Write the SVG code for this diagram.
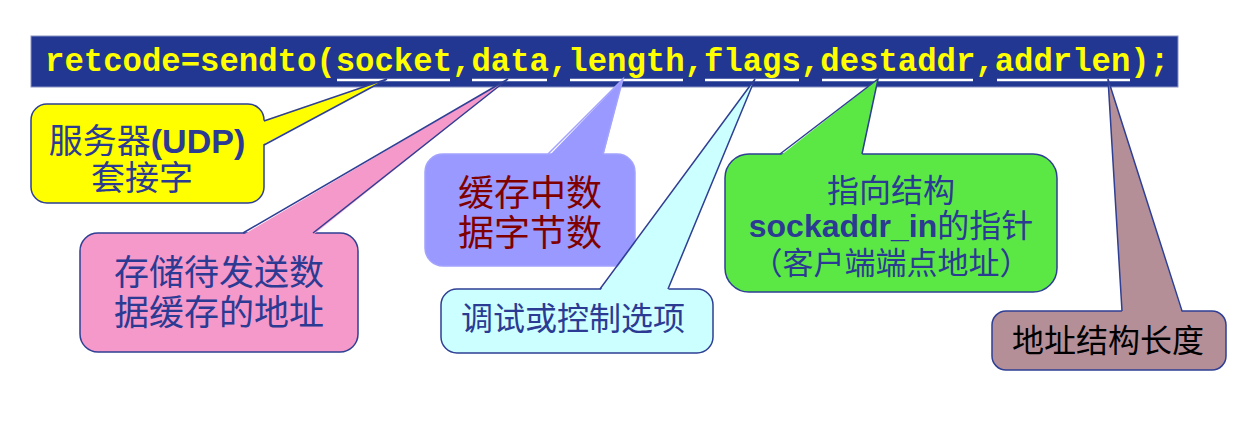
<svg xmlns="http://www.w3.org/2000/svg" width="1233" height="427" viewBox="0 0 1233 427">
<style>
.box{stroke:#2E3F94;stroke-width:1.5}
.edge{fill:none;stroke:#2E3F94;stroke-width:1.5;stroke-linejoin:miter}
.cjk{font-family:"Noto Sans CJK SC","Noto Sans",sans-serif;text-anchor:middle}
.lat{font-family:"Liberation Sans",Arial,sans-serif;font-weight:bold}
.blue{fill:#2B3A92}
.code{font-family:"Liberation Mono","Courier New",monospace;font-weight:bold;font-size:32.3px;fill:#FFFF00}
.ul{stroke:#FFFFFF;stroke-width:2.5}
</style>
<rect width="1233" height="427" fill="#FFFFFF"/>
<g id="code-bar">
<rect x="31" y="36" width="1147" height="51" fill="#213791" stroke="#8A93C4" stroke-width="1"/>
<text class="code" x="45" y="71">retcode=sendto(socket,data,length,flags,destaddr,addrlen);</text>
<line class="ul" x1="337" y1="80" x2="450" y2="80"/>
<line class="ul" x1="472" y1="80" x2="547" y2="80"/>
<line class="ul" x1="570" y1="80" x2="683" y2="80"/>
<line class="ul" x1="705" y1="80" x2="799" y2="80"/>
<line class="ul" x1="822" y1="80" x2="973" y2="80"/>
<line class="ul" x1="997" y1="80" x2="1130" y2="80"/>
</g>
<g id="socket-note">
<rect class="box" x="31" y="104" width="233" height="99" rx="16" fill="#FFFF00"/>
<text class="cjk blue" x="147" y="153" font-size="34">服务器<tspan class="lat">(UDP)</tspan></text>
<text class="cjk blue" x="142" y="190" font-size="34">套接字</text>
</g>
<g id="data-note">
<rect class="box" x="80" y="233" width="278" height="119" rx="18" fill="#F598CA"/>
<text class="cjk blue" x="219" y="285" font-size="35">存储待发送数</text>
<text class="cjk blue" x="219" y="325" font-size="35">据缓存的地址</text>
</g>
<g id="length-note">
<rect x="425" y="154" width="210" height="112" rx="18" fill="#9999FF" stroke="#A3A3FF" stroke-width="1.5"/>
<text class="cjk" x="530" y="206" font-size="36" fill="#800000">缓存中数</text>
<text class="cjk" x="530" y="246" font-size="36" fill="#800000">据字节数</text>
</g>
<g id="flags-note">
<rect class="box" x="441" y="289" width="272" height="64" rx="16" fill="#CCFFFF"/>
<text class="cjk blue" x="573" y="330" font-size="32">调试或控制选项</text>
</g>
<g id="destaddr-note">
<rect class="box" x="725" y="154" width="332" height="138" rx="24" fill="#5BE845"/>
<text class="cjk blue" x="891" y="202" font-size="32">指向结构</text>
<text class="cjk blue" x="891" y="237" font-size="32"><tspan class="lat">sockaddr_in</tspan>的指针</text>
<text class="cjk blue" x="891" y="274" font-size="31">（客户端端点地址）</text>
</g>
<g id="addrlen-note">
<rect class="box" x="992" y="311" width="234" height="59" rx="14" fill="#B48F98"/>
<text class="cjk" x="1108" y="352" font-size="32" fill="#000000">地址结构长度</text>
</g>
<g id="connectors">
<polygon points="262,121 387,79 262,145" fill="#FFFF00"/>
<polyline class="edge" points="264,121 387,79 264,145"/>
<polygon points="243,235 508,79 313,235" fill="#F598CA"/>
<polyline class="edge" points="243,233 508,79 313,233"/>
<polygon points="548,157 623,79 603,157" fill="#9999FF"/>
<polyline fill="none" stroke="#A3A3FF" stroke-width="1.5" points="548,154 623,79 603,154"/>
<polygon points="600,291 755,79 668,291" fill="#CCFFFF"/>
<polyline class="edge" points="600,289 755,79 668,289"/>
<polygon points="780,156 878,79 862,156" fill="#5BE845"/>
<polyline class="edge" points="780,154 878,79 862,154"/>
<polygon points="1122,313 1108,79 1182,313" fill="#B48F98"/>
<polyline class="edge" points="1122,311 1108,79 1182,311"/>
</g>
</svg>
